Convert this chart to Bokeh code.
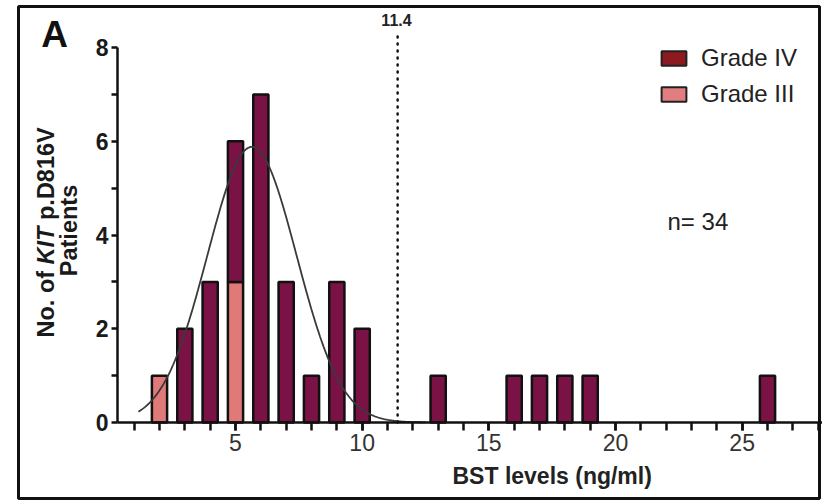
import math
import numpy as np
from bokeh.plotting import figure
from bokeh.models import Range1d, FixedTicker, Label, BoxAnnotation
from bokeh.embed import file_html
from bokeh.resources import INLINE

# ---- data ----
bst_bins = [2, 3, 4, 5, 6, 7, 8, 9, 10, 13, 16, 17, 18, 19, 26]
grade_iv = [0, 2, 3, 3, 7, 3, 1, 3, 2, 1, 1, 1, 1, 1, 1]
grade_iii = [1, 0, 0, 3, 0, 0, 0, 0, 0, 0, 0, 0, 0, 0, 0]
threshold = 11.4
n_patients = 34
# Gaussian fit drawn in the reference (parameters)
fit_mean = 5.65
fit_sd = 1.76
fit_peak = 5.88
fit_x_start, fit_x_end = 1.17, 12.5
x_major_ticks = [5, 10, 15, 20, 25]
x_minor_ticks = list(range(1, 29))
y_major_ticks = [0, 2, 4, 6, 8]
y_minor_ticks = [1, 3, 5, 7]

FONT = "Liberation Sans"
W, H = 822, 500
AX_L, AX_B = 117, 422      # canvas px of the y axis line / x axis line
PXX, PXY = 25.333, 46.875  # px per data unit
X0 = 0.342                 # data x where the y axis sits

x_start = X0 - AX_L / PXX
x_end = X0 + (W - AX_L) / PXX
y_start = -(H - AX_B) / PXY
y_end = AX_B / PXY

p = figure(width=W, height=H, output_backend="svg", toolbar_location=None,
           x_range=Range1d(x_start, x_end), y_range=Range1d(y_start, y_end),
           min_border_left=0, min_border_right=0, min_border_top=0,
           min_border_bottom=0)
p.grid.visible = False
p.outline_line_color = None
p.background_fill_color = "white"
p.border_fill_color = "white"

# x axis (drawn at y = 0 inside the canvas)
xa = p.xaxis[0]
xa.fixed_location = 0
xa.bounds = (X0, x_end)
xa.ticker = FixedTicker(ticks=x_major_ticks, minor_ticks=x_minor_ticks)
xa.axis_line_width = 2.5
xa.axis_line_color = "#111"
xa.major_tick_line_width = 2.5
xa.minor_tick_line_width = 2.5
xa.major_tick_line_color = "#111"
xa.minor_tick_line_color = "#111"
xa.major_tick_out = 8
xa.major_tick_in = 0
xa.minor_tick_out = 8
xa.minor_tick_in = 0
xa.major_label_text_font = FONT
xa.major_label_text_font_size = "23px"
xa.major_label_text_color = "#333"
xa.major_label_standoff = 3

# y axis (drawn at x = X0)
ya = p.yaxis[0]
ya.fixed_location = X0
ya.ticker = FixedTicker(ticks=y_major_ticks, minor_ticks=y_minor_ticks)
ya.bounds = (0, 8)
ya.axis_line_width = 2.5
ya.axis_line_color = "#111"
ya.major_tick_line_width = 2.5
ya.minor_tick_line_width = 2.5
ya.major_tick_line_color = "#111"
ya.minor_tick_line_color = "#111"
ya.major_tick_out = 6
ya.major_tick_in = 0
ya.minor_tick_out = 6
ya.minor_tick_in = 0
ya.major_label_text_font = FONT
ya.major_label_text_font_size = "23px"
ya.major_label_text_font_style = "bold"
ya.major_label_text_color = "#1a1a1a"
ya.major_label_standoff = 3

# bars
BAR_IV = "#7a1246"
BAR_III = "#e07a78"
iii_x = [b for b, v in zip(bst_bins, grade_iii) if v > 0]
iii_top = [v for v in grade_iii if v > 0]
iv_x = [b for b, v in zip(bst_bins, grade_iv) if v > 0]
iv_bottom = [a for a, v in zip(grade_iii, grade_iv) if v > 0]
iv_top = [a + v for a, v in zip(grade_iii, grade_iv) if v > 0]
p.vbar(x=iii_x, bottom=0, top=iii_top, width=0.6, fill_color=BAR_III,
       line_color="#111", line_width=2.5)
p.vbar(x=iv_x, bottom=iv_bottom, top=iv_top, width=0.6, fill_color=BAR_IV,
       line_color="#111", line_width=2.5)

# legend swatches (hidden duplicates carrying the legend colours)
r_iv = p.vbar(x=iv_x, bottom=iv_bottom, top=iv_top, width=0.6, fill_color="#8c1a1e",
              line_color="#222", line_width=2, legend_label="Grade IV", visible=False)
r_iii = p.vbar(x=iii_x, bottom=0, top=iii_top, width=0.6, fill_color="#e27d80",
               line_color="#222", line_width=2, legend_label="Grade III", visible=False)

# gaussian fit curve
cx = np.linspace(fit_x_start, fit_x_end, 300)
cy = fit_peak * np.exp(-(cx - fit_mean) ** 2 / (2 * fit_sd ** 2))
p.line(cx, cy, line_color="#3a3a3a", line_width=1.8)

# threshold dotted line
p.segment(x0=[threshold], y0=[0], x1=[threshold], y1=[8.256],
          line_color="#111", line_width=2.5, line_dash="1 6", line_cap="round")

lg = p.legend[0]
lg.location = (658, H - 108)
lg.glyph_width = 31
lg.glyph_height = 18
lg.label_text_font = FONT
lg.label_text_font_size = "24px"
lg.label_text_color = "#222"
lg.label_standoff = 12
lg.spacing = 8
lg.padding = 0
lg.margin = 0
lg.border_line_color = None
lg.background_fill_alpha = 0
lg.inactive_fill_alpha = 0


def dx(cxp):
    return x_start + cxp / PXX


def dy(cyp):
    return (AX_B - cyp) / PXY


def lab(text, fx, fy, size, style="normal", align="left", angle=0.0, color="#1a1a1a"):
    p.add_layout(Label(x=dx(fx), y=dy(fy), text=text, text_font=FONT,
                       text_font_size=size, text_font_style=style,
                       text_align=align, text_baseline="middle", angle=angle,
                       text_color=color))


lab("A", 54, 33.5, "37px", "bold", align="center", color="#111")
lab(str(threshold), 396, 19, "16px", "bold", align="center", color="#222")
lab(f"n= {n_patients}", 667, 221, "24px", color="#222")
lab("BST levels (ng/ml)", 452, 475, "23px", "bold", color="#222")

# rotated y label with italic gene name
ang = math.pi / 2
lab("No. of", 45.5, 337, "23.5px", "bold", angle=ang)
lab("KIT", 45.5, 263.9, "23.5px", "bold italic", angle=ang)
lab("p.D816V", 45.5, 219.5, "23.5px", "bold", angle=ang)
lab("Patients", 68.5, 230, "23.5px", "bold", align="center", angle=ang)

# outer panel border
p.add_layout(BoxAnnotation(left=dx(18), right=dx(819), top=dy(6), bottom=dy(498),
                           fill_alpha=0, line_color="#111", line_alpha=1,
                           line_width=3))

open("out.html", "w").write(file_html(p, INLINE))
